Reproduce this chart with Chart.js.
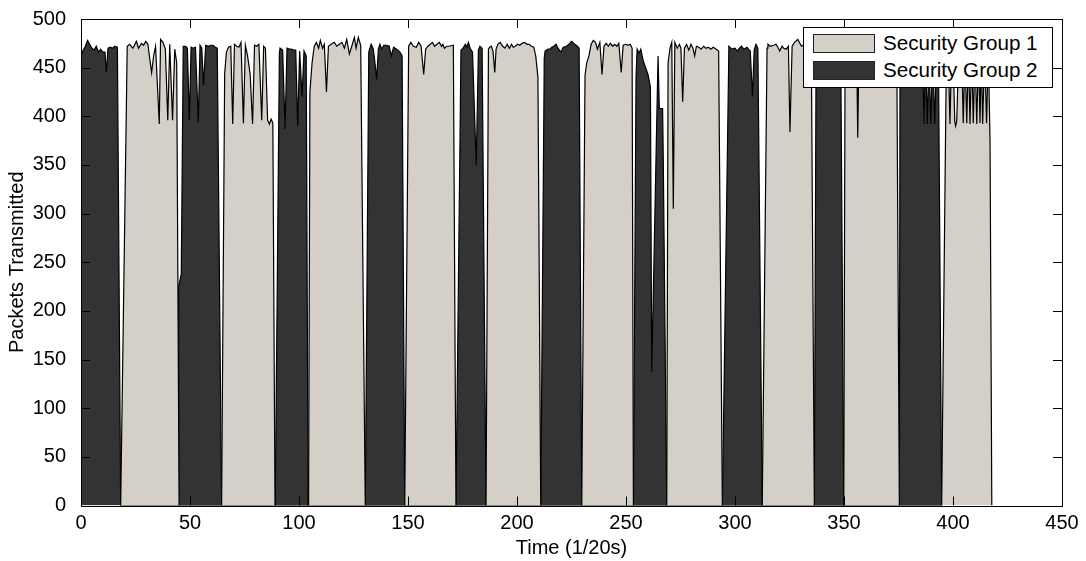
<!DOCTYPE html>
<html lang="en">
<head>
  <meta charset="UTF-8" />
  <title>Packets Transmitted per Security Group</title>
  <script src="https://cdn.jsdelivr.net/npm/chart.js"></script>
  <style>
    body {
      margin: 0;
      background: #fff;
      font-family: Arial, "Liberation Sans", Helvetica, sans-serif;
    }
    .chart-wrapper {
      position: relative;
      width: 1086px;
      height: 561px;
    }
    .legend {
      position: absolute;
      left: 803px;
      top: 27px;
      width: 248px;
      height: 59px;
      background: #fff;
      border: 1px solid #000;
    }
    .legend-item {
      position: absolute;
      left: 9px;
      height: 18px;
      font-size: 20.6px;
      line-height: 18px;
      white-space: nowrap;
    }
    .legend-item .swatch {
      display: inline-block;
      width: 60px;
      height: 17px;
      border: 1px solid #222;
      vertical-align: top;
      margin-right: 8px;
    }
  </style>
</head>
<body>
  <div class="chart-wrapper">
    <canvas id="trafficChart"></canvas>
    <div class="legend" id="legend"></div>
  </div>

  <script>
    // x values are time in 1/20s, y values are packets transmitted
    const group1Points = [
      [18.2,0],[21.2,472],[22.3,474],[23.8,470],[25.4,477],[26.4,470],[27.7,475],[28.7,473],[29.7,477],[30.7,474],[31.6,458],[32.4,445],[33.3,462],[34.2,472],[35.9,392],[36.5,479],[37.6,476],[38.7,469],[39.8,396],[40.7,474],[42,396],[43,469],[43.9,455],[45,0],
      [64.5,0],[65.9,444],[66.7,466],[67.7,471],[68.7,472],[69.6,392],[70.4,474],[71.4,472],[72.4,471],[73.4,476],[74.5,393],[75.4,473],[76.4,462],[77.6,443],[78.7,392],[79.6,473],[80.6,472],[81.6,474],[82.9,396],[83.8,472],[84.6,470],[85.6,396],[86.4,392],[87.2,397],[88,393],[89,0],
      [104.4,0],[105,425],[106,455],[107,472],[108,476],[109,470],[109.8,478],[110.8,470],[111.6,474],[112.6,425],[113.5,472],[114.7,474],[116.2,476],[117.3,472],[118.5,474],[119.7,476],[120.8,470],[121.9,479],[123.1,464],[124.2,472],[125.4,481],[126.2,470],[127.2,481],[128.3,473],[130.4,0],
      [148.5,0],[150.3,472],[151.3,476],[152.5,472],[153.8,471],[154.9,476],[156,472],[157.2,443],[158.1,469],[159.1,472],[160.2,474],[161.2,476],[162.2,472],[163.3,474],[164.4,476],[165.4,472],[166,474],[166.7,470],[167.8,472],[168.9,472],[170.8,473],[172,0],
      [185.8,0],[186.9,469],[187.5,471],[188.2,472],[189,467],[189.8,445],[190.4,469],[191.2,474],[192.3,476],[193.4,472],[194.5,470],[195.5,474],[196.5,470],[197.5,474],[198.3,471],[199.2,472],[200.3,474],[201.3,473],[202.3,475],[203.5,476],[204.6,474],[205.6,474],[206.6,472],[207.7,471],[208.6,462],[209.6,440],[210.9,0],
      [229.7,0],[231.2,442],[232,455],[233,462],[234,474],[235,478],[236,476],[236.9,469],[238,476],[239,443],[239.9,472],[240.9,475],[241.9,472],[242.8,475],[243.9,472],[244.8,474],[245.8,472],[246.7,475],[247.8,445],[248.7,473],[249.8,474],[250.9,473],[251.9,474],[252.8,470],[253.4,0],
      [268.7,0],[269.3,455],[270.2,470],[271,476],[271.7,305],[272.4,476],[273.5,470],[274.5,474],[275.2,470],[276,415],[276.8,470],[277.8,474],[278.8,468],[279.8,474],[280.7,470],[281.5,462],[282.3,472],[283.4,471],[284.5,469],[285.6,472],[286.7,470],[287.8,471],[288.9,469],[290,471],[291.4,469],[292.5,467],[294.2,0],
      [312.5,0],[314.7,470],[315.1,474],[316.2,472],[317.7,473],[318.8,474],[319.9,470],[320.5,467],[321.6,472],[322.3,470],[323.5,469],[324.5,472],[325.2,384],[326.2,472],[327.3,476],[328.8,479],[330.5,472],[332,474],[333.5,472],[335,470],[336.4,0],
      [349.9,0],[350.5,470],[352,472],[353.5,471],[355,473],[355.8,470],[356.3,378],[356.9,471],[358.5,472],[360,470],[361.5,473],[363,472],[364.5,470],[366,472],[367.5,471],[369,473],[370.5,470],[372,472],[373.5,471],[374.2,470],[375.4,0],
      [394.8,0],[397,470],[397.8,468],[398.6,392],[399.4,468],[400.3,440],[400.8,395],[401.2,390],[401.7,395],[402.3,440],[403.2,468],[404,466],[404.7,393],[405.5,466],[406.3,393],[407.1,466],[407.8,392],[408.6,466],[409.3,393],[410.1,466],[410.9,392],[411.7,466],[412.4,393],[413,466],[413.6,392],[414.5,466],[415.4,393],[416.2,466],[417,374],[417.8,0]
    ];

    const group2Points = [
      [0,462],[1,468],[2,472],[3,478],[4,474],[5,470],[6,468],[7,472],[8,466],[9,469],[10,466],[11,466],[11.6,445],[12.4,470],[13.5,471],[14.5,470],[15.5,472],[16.7,471],[18.2,0],
      [44.6,0],[44.8,225],[46,238],[46.9,472],[48,472],[48.8,470],[49.7,396],[50.5,471],[51.5,470],[52.5,471],[53.8,394],[54.6,473],[55.4,470],[56.2,432],[57.2,473],[58.5,472],[59.6,473],[60.6,473],[61.6,471],[62.5,470],[64.5,0],
      [89.1,0],[91,465],[91.3,470],[92.5,468],[93.6,387],[94.5,470],[95.5,469],[96.5,469],[97.5,468],[98.5,468],[99.4,390],[100.3,467],[101.4,420],[102.3,467],[103.3,462],[104.2,0],
      [130.4,0],[132,466],[133.1,474],[134.1,469],[135,452],[135.6,438],[136.4,469],[137.1,474],[138,469],[138.9,473],[140.4,473],[141.4,472],[142.3,462],[143.4,471],[144.8,469],[146.3,466],[147.3,462],[148.5,0],
      [172,0],[174.3,468],[175.2,470],[176.3,474],[177,471],[177.7,476],[178.5,470],[179.6,466],[181.3,350],[182.3,468],[183,472],[184,470],[185.8,0],
      [210.9,0],[212.5,460],[212.9,467],[214.2,469],[215.2,469],[215.9,471],[216.9,472],[217.9,474],[219.1,469],[220.2,466],[221.2,471],[222.6,472],[223.8,474],[225,477],[226.5,474],[227.7,472],[228.5,470],[229.7,0],
      [253.4,0],[254.6,440],[255.1,469],[256,465],[256.8,469],[257.6,460],[258.2,455],[259,450],[260.1,443],[261.2,430],[261.8,137],[264.7,462],[265.3,408],[266.8,408],[267.1,355],[268.7,0],
      [294.2,0],[297.2,472],[298.5,469],[300,470],[301,467],[302,470],[303,472],[304,469],[305.5,471],[307,467],[308,420],[308.8,468],[309.6,474],[310.5,470],[312.5,0],
      [336.4,0],[337.2,470],[338.5,472],[340,470],[341.5,473],[343,471],[344.5,472],[346,470],[347.5,472],[348.5,470],[349.9,0],
      [375.4,0],[375.7,470],[377.5,472],[379,470],[380.5,473],[382,471],[383.5,472],[385,470],[386,468],[386.7,392],[387.4,465],[388.2,392],[389,465],[389.8,392],[390.7,465],[391.6,392],[392.5,468],[393.3,470],[394.8,0]
    ];

    const seriesLabels = ['Security Group 1', 'Security Group 2'];
    const seriesColors = ['#d4d0c8', '#333333'];
    const timeTicks = [0, 50, 100, 150, 200, 250, 300, 350, 400, 450];
    const packetTicks = [0, 50, 100, 150, 200, 250, 300, 350, 400, 450, 500];

    Chart.defaults.font.family = 'Arial, "Liberation Sans", Helvetica, sans-serif';
    Chart.defaults.font.size = 20;
    Chart.defaults.color = '#000';

    // MATLAB style box with ticks pointing inward
    const boxTicks = {
      id: 'boxTicks',
      afterDatasetsDraw(chart) {
        const { ctx, chartArea: a, scales } = chart;
        const len = 9;
        ctx.save();
        ctx.strokeStyle = '#000';
        ctx.lineWidth = 1;
        ctx.beginPath();
        timeTicks.forEach(v => {
          const x = Math.round(scales.x.getPixelForValue(v)) + 0.5;
          ctx.moveTo(x, a.bottom); ctx.lineTo(x, a.bottom - len);
          ctx.moveTo(x, a.top); ctx.lineTo(x, a.top + len);
        });
        packetTicks.forEach(v => {
          const y = Math.round(scales.y.getPixelForValue(v)) + 0.5;
          ctx.moveTo(a.left, y); ctx.lineTo(a.left + len, y);
          ctx.moveTo(a.right, y); ctx.lineTo(a.right - len, y);
        });
        ctx.stroke();
        ctx.strokeRect(Math.round(a.left) + 0.5, Math.round(a.top) + 0.5,
          Math.round(a.right - a.left), Math.round(a.bottom - a.top));
        ctx.restore();
      }
    };

    const ctx = document.getElementById('trafficChart').getContext('2d');

    const chart = new Chart(ctx, {
      type: 'line',
      data: {
        datasets: [group1Points, group2Points].map((pts, i) => ({
          label: seriesLabels[i],
          data: pts.map(([x, y]) => ({ x, y })),
          backgroundColor: seriesColors[i],
          borderColor: '#000',
          borderWidth: 1.2,
          pointRadius: 0,
          tension: 0,
          fill: 'origin'
        }))
      },
      options: {
        responsive: true,
        maintainAspectRatio: false,
        animation: false,
        events: [],
        layout: { padding: { top: 16, right: 24 } },
        plugins: {
          legend: { display: false },
          tooltip: { enabled: false }
        },
        scales: {
          x: {
            type: 'linear',
            min: 0,
            max: 450,
            afterBuildTicks: s => { s.ticks = timeTicks.map(v => ({ value: v })); },
            afterFit: s => { s.height = 55.5; },
            ticks: { padding: -2, maxRotation: 0 },
            grid: { display: false },
            border: { display: false },
            title: { display: true, text: 'Time (1/20s)', padding: { top: 0, bottom: 1 } }
          },
          y: {
            min: 0,
            max: 500,
            afterBuildTicks: s => { s.ticks = packetTicks.map(v => ({ value: v })); },
            afterFit: s => { s.width = 81; },
            ticks: { padding: 7 },
            grid: { display: false },
            border: { display: false },
            title: { display: true, text: 'Packets Transmitted', padding: { top: 5, bottom: 0 } }
          }
        }
      },
      plugins: [boxTicks]
    });

    // legend box in the upper right of the plot
    const legend = document.getElementById('legend');
    chart.data.datasets.forEach((ds, i) => {
      const item = document.createElement('div');
      item.className = 'legend-item';
      item.style.top = (6 + i * 27) + 'px';
      const sw = document.createElement('span');
      sw.className = 'swatch';
      sw.style.background = ds.backgroundColor;
      item.appendChild(sw);
      item.appendChild(document.createTextNode(ds.label));
      legend.appendChild(item);
    });
  </script>
</body>
</html>
